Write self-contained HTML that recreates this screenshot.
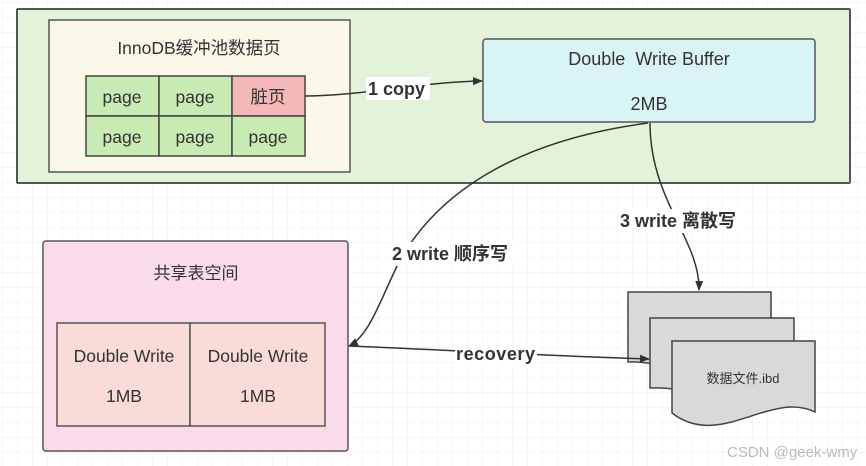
<!DOCTYPE html>
<html><head><meta charset="utf-8"><style>
html,body{margin:0;padding:0;background:#fff}
svg{display:block}
text{font-family:"Liberation Sans","Noto Sans CJK SC",sans-serif;fill:#333}
</style></head><body>
<svg width="866" height="466" viewBox="0 0 866 466" xmlns="http://www.w3.org/2000/svg">
<defs>
<pattern id="g" width="15" height="15" patternUnits="userSpaceOnUse" x="2" y="2">
<path d="M0 0H15M0 0V15" stroke="#efefef" stroke-width="1.2" fill="none"/>
</pattern>
<marker id="a" markerWidth="10" markerHeight="8" refX="9" refY="4" orient="auto" markerUnits="userSpaceOnUse">
<path d="M0 0L10 4L0 8z" fill="#333"/>
</marker>
</defs>
<rect width="866" height="466" fill="url(#g)"/>
<rect x="17" y="9" width="833" height="174" fill="#e3f3d9" stroke="#555" stroke-width="2" rx="1"/>
<rect x="49" y="20" width="301" height="152" fill="#fbf8ea" stroke="#555" stroke-width="1.5"/>
<text x="199" y="54" text-anchor="middle" font-size="17.5">InnoDB缓冲池数据页</text>
<g stroke="#444" stroke-width="1.5">
<rect x="86" y="76" width="73" height="40" fill="#c8ebb4"/>
<rect x="159" y="76" width="73" height="40" fill="#c8ebb4"/>
<rect x="232" y="76" width="73" height="40" fill="#f4b8b8"/>
<rect x="86" y="116" width="73" height="40" fill="#c8ebb4"/>
<rect x="159" y="116" width="73" height="40" fill="#c8ebb4"/>
<rect x="232" y="116" width="73" height="40" fill="#c8ebb4"/>
</g>
<g font-size="17.5" text-anchor="middle">
<text x="122" y="103">page</text><text x="195" y="103">page</text><text x="268" y="103">脏页</text>
<text x="122" y="143">page</text><text x="195" y="143">page</text><text x="268" y="143">page</text>
</g>
<rect x="483" y="39" width="332" height="83" rx="3" fill="#d9f4f5" stroke="#555" stroke-width="1.5"/>
<text x="649" y="65" text-anchor="middle" font-size="18" xml:space="preserve">Double  Write Buffer</text>
<text x="649" y="110" text-anchor="middle" font-size="18">2MB</text>

<rect x="43" y="241" width="305" height="210" rx="3" fill="#f9dbea" stroke="#555" stroke-width="1.5"/>
<text x="196" y="279" text-anchor="middle" font-size="17">共享表空间</text>
<rect x="57" y="323" width="133" height="103" fill="#f9dcd7" stroke="#555" stroke-width="1.5"/>
<rect x="190" y="323" width="135" height="103" fill="#f9dcd7" stroke="#555" stroke-width="1.5"/>
<g font-size="17.5" text-anchor="middle">
<text x="124" y="362">Double Write</text><text x="124" y="402">1MB</text>
<text x="258" y="362">Double Write</text><text x="258" y="402">1MB</text>
</g>

<g stroke="#444" stroke-width="1.5" fill="#d9d9d9">
<path d="M628 292H771V372C730 400 680 360 628 362Z"/>
<path d="M650 318H794V396C750 420 700 385 650 388Z"/>
<path d="M672 341H815V412C770 390 720 450 672 413Z"/>
</g>
<text x="743" y="383" text-anchor="middle" font-size="13">数据文件.ibd</text>

<g stroke="#333" stroke-width="1.5" fill="none">
<path d="M305 96 C360 96 420 82 482 81" marker-end="url(#a)"/>
<path d="M648 123 C520 140 440 190 400 260 C380 300 370 335 349 346" marker-end="url(#a)"/>
<path d="M650 123 C650 200 700 240 699 290" marker-end="url(#a)"/>
<path d="M349 346 C450 350 550 356 649 359" marker-end="url(#a)"/>
</g>

<g font-size="18" font-weight="bold">
<rect x="366" y="77" width="64" height="23" fill="#fff"/>
<text x="368" y="95">1 copy</text>
<rect x="390" y="242" width="126" height="24" fill="#fff"/>
<text x="392" y="260">2 write 顺序写</text>
<rect x="618" y="209" width="127" height="24" fill="#fff"/>
<text x="620" y="227">3 write 离散写</text>
<rect x="455" y="343" width="82" height="23" fill="#fff"/>
<text x="456" y="360" textLength="79">recovery</text>
</g>
<text x="727" y="457" font-size="15" style="fill:#bbb">CSDN @geek-wmy</text>
</svg>
</body></html>
